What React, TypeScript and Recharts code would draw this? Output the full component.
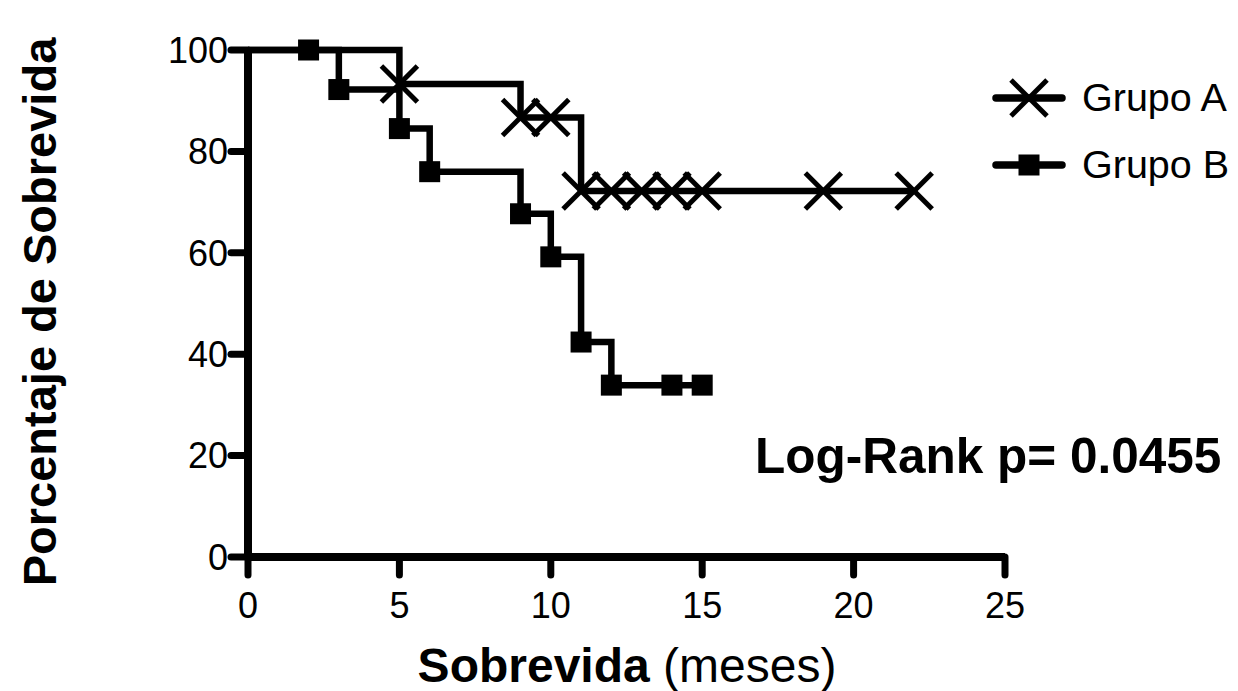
import React from 'react';
import { ComposedChart, Line, Scatter, XAxis, YAxis, Legend, Label } from 'recharts';

const FONT = '"Liberation Sans", Arial, Helvetica, sans-serif';

const xTicks = [0, 5, 10, 15, 20, 25];
const yTicks = [0, 20, 40, 60, 80, 100];

const grupoAStepTimes = [0, 5, 9, 11, 22];
const grupoAStepSurvival = [100, 93.3, 86.7, 72.2, 72.2];
const grupoAMarkTimes = [5, 9, 10, 11, 12, 13, 14, 15, 19, 22];
const grupoAMarkSurvival = [93.3, 86.7, 86.7, 72.2, 72.2, 72.2, 72.2, 72.2, 72.2, 72.2];

const grupoBStepTimes = [0, 3, 5, 6, 9, 10, 11, 12, 15];
const grupoBStepSurvival = [100, 92.2, 84.5, 76, 67.7, 59.2, 42.4, 33.9, 33.9];
const grupoBMarkTimes = [2, 3, 5, 6, 9, 10, 11, 12, 14, 15];
const grupoBMarkSurvival = [100, 92.2, 84.5, 76, 67.7, 59.2, 42.4, 33.9, 33.9, 33.9];

const seriesNames = ['Grupo A', 'Grupo B'];
const xTitleBold = 'Sobrevida';
const xTitleRegular = ' (meses)';
const yTitle = 'Porcentaje de Sobrevida';
const annotation = 'Log-Rank p= 0.0455';

const zip = (xs: number[], ys: number[]) => xs.map((x, i) => ({ x, y: ys[i] }));

const aSteps = zip(grupoAStepTimes, grupoAStepSurvival);
const aMarks = zip(grupoAMarkTimes, grupoAMarkSurvival);
const bSteps = zip(grupoBStepTimes, grupoBStepSurvival);
const bMarks = zip(grupoBMarkTimes, grupoBMarkSurvival);

const CrossShape = (props: any) => {
  const { cx, cy } = props;
  const h = 18;
  return (
    <g>
      <line x1={cx - h} y1={cy - h} x2={cx + h} y2={cy + h} stroke="#000" strokeWidth={5} />
      <line x1={cx - h} y1={cy + h} x2={cx + h} y2={cy - h} stroke="#000" strokeWidth={5} />
    </g>
  );
};

const SquareShape = (props: any) => {
  const { cx, cy } = props;
  return <rect x={cx - 10.5} y={cy - 10.5} width={21} height={21} fill="#000" />;
};

const renderLegend = () => (
  <div style={{ fontFamily: FONT, fontSize: 39.5, color: '#000' }}>
    {seriesNames.map((name, i) => (
      <div key={name} style={{ display: 'flex', alignItems: 'center', height: 67 }}>
        <svg width={76} height={44} style={{ display: 'block' }}>
          <line x1={4} y1={22} x2={70} y2={22} stroke="#000" strokeWidth={7.5} strokeLinecap="round" />
          {i === 0 ? <CrossShape cx={37} cy={22} /> : <SquareShape cx={37} cy={22} />}
        </svg>
        <span style={{ marginLeft: 14, lineHeight: 1 }}>{name}</span>
      </div>
    ))}
  </div>
);

const YTitle = () => (
  <text
    x={48}
    y={304}
    transform="rotate(-90, 48, 304)"
    textAnchor="middle"
    fontFamily={FONT}
    fontWeight="bold"
    fontSize={47}
    fill="#000"
  >
    {yTitle}
  </text>
);

const XTitle = () => (
  <text x={619} y={674} textAnchor="middle" fontFamily={FONT} fontSize={48} fill="#000">
    <tspan fontWeight="bold">{xTitleBold}</tspan>
    <tspan>{xTitleRegular}</tspan>
  </text>
);

const Annotation = () => (
  <text x={747} y={465} textAnchor="start" fontFamily={FONT} fontWeight="bold" fontSize={49.5} fill="#000">
    {annotation}
  </text>
);

export default function App() {
  const axisStyle = { stroke: '#000', strokeWidth: 8 };
  const tickLineStyle = { stroke: '#000', strokeWidth: 7, strokeLinecap: 'round' as const };
  const tickStyle = { fill: '#000', fontSize: 36, fontFamily: FONT };
  return (
    <div style={{ width: 1230, height: 683, background: '#fff' }}>
      <ComposedChart width={1230} height={683} margin={{ top: 42, right: 233, left: 0, bottom: 0 }}>
        <XAxis
          type="number"
          dataKey="x"
          domain={[0, 25]}
          ticks={xTicks}
          height={134}
          axisLine={axisStyle}
          tickLine={tickLineStyle}
          tickSize={18}
          tickMargin={17}
          tick={tickStyle}
        >
          <Label content={() => <XTitle />} />
          <Label content={() => <Annotation />} />
        </XAxis>
        <YAxis
          type="number"
          dataKey="y"
          domain={[0, 100]}
          ticks={yTicks}
          width={240}
          axisLine={axisStyle}
          tickLine={tickLineStyle}
          tickSize={17}
          tickMargin={3}
          tick={tickStyle}
        >
          <Label content={() => <YTitle />} />
        </YAxis>
        <Legend
          content={renderLegend}
          layout="vertical"
          align="center"
          verticalAlign="middle"
          wrapperStyle={{ left: 984, top: 56, width: 250 }}
        />
        <Line
          data={aSteps}
          dataKey="y"
          name="Grupo A"
          type="stepAfter"
          stroke="#000"
          strokeWidth={6.5}
          dot={false}
          activeDot={false}
          legendType="none"
          isAnimationActive={false}
        />
        <Line
          data={bSteps}
          dataKey="y"
          name="Grupo B"
          type="stepAfter"
          stroke="#000"
          strokeWidth={6.5}
          dot={false}
          activeDot={false}
          legendType="none"
          isAnimationActive={false}
        />
        <Scatter data={aMarks} dataKey="y" name="Grupo A" shape={CrossShape} isAnimationActive={false} />
        <Scatter data={bMarks} dataKey="y" name="Grupo B" shape={SquareShape} isAnimationActive={false} />
      </ComposedChart>
    </div>
  );
}
